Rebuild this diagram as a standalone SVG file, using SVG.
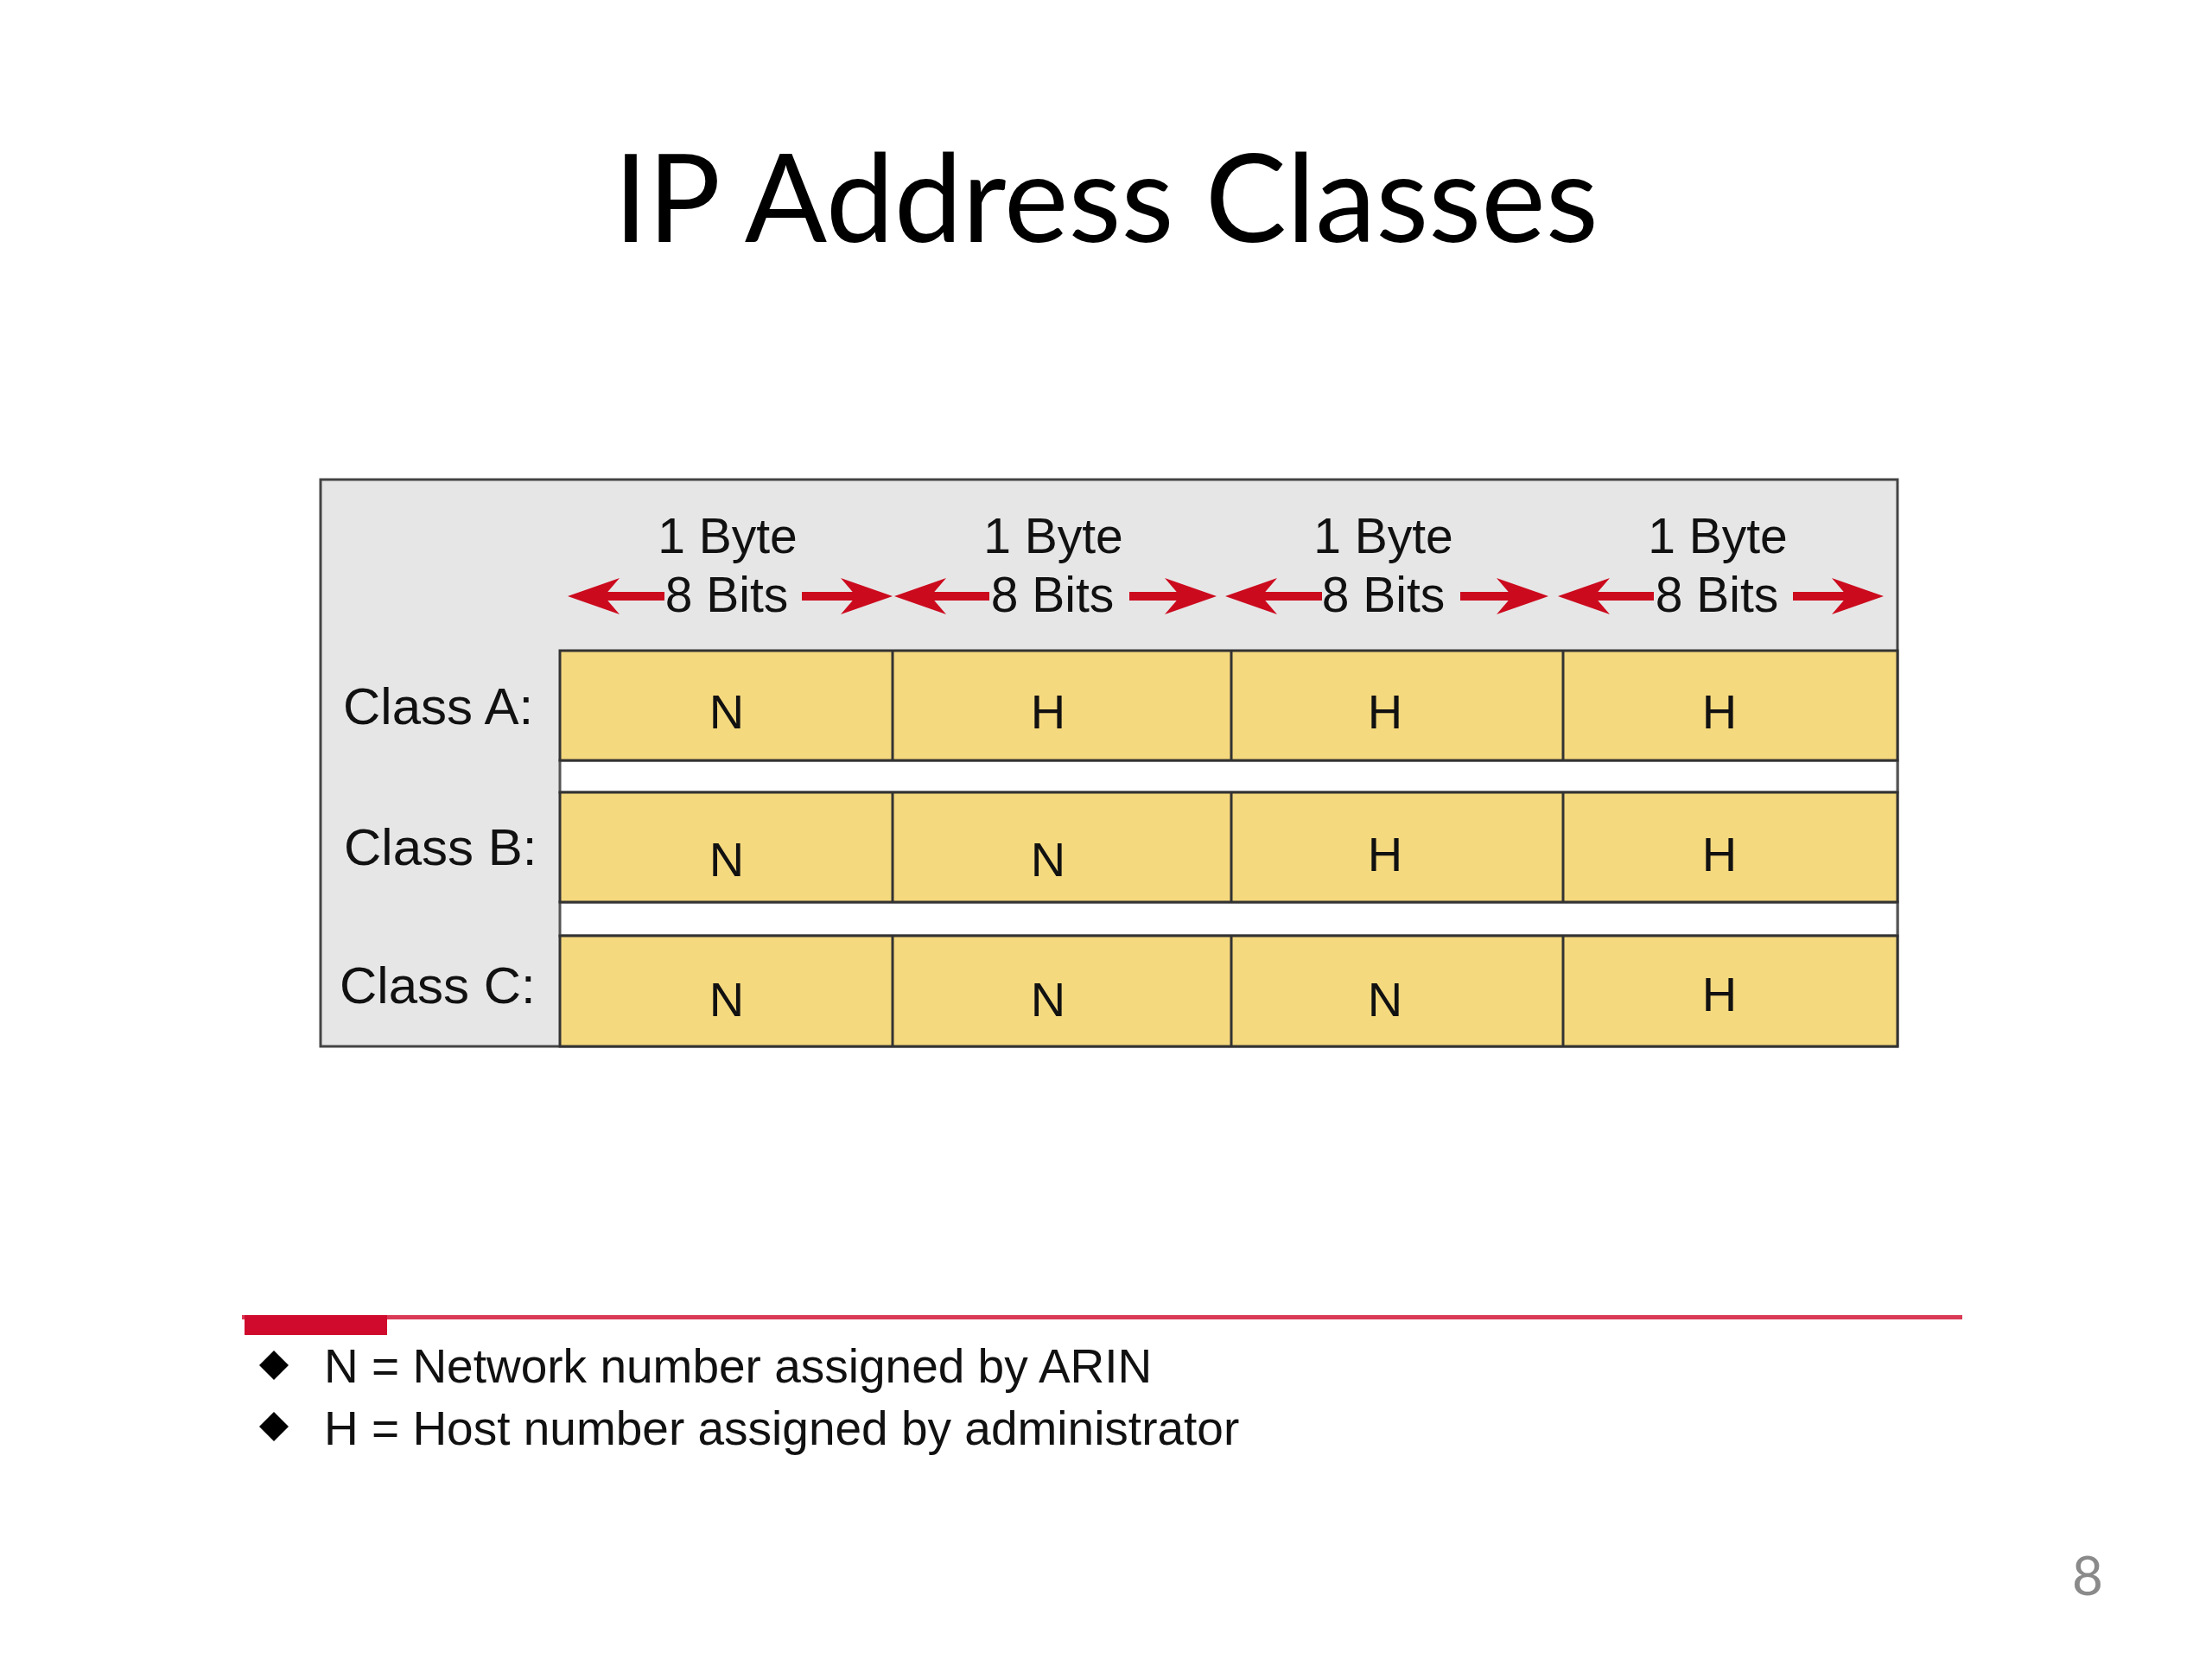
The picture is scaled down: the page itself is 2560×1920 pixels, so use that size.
<svg xmlns="http://www.w3.org/2000/svg" width="2560" height="1920" viewBox="0 0 2560 1920">
<style>
.title{font-family:Lato,"Open Sans",sans-serif;font-size:141px;fill:#000}
.pg{font-family:Lato,"Open Sans",sans-serif;font-size:62px;fill:#8a8a8a}
.hdr{font-family:"Liberation Sans",Arial,sans-serif;font-size:57px;fill:#111;text-anchor:middle}
.lbl{font-family:"Liberation Sans",Arial,sans-serif;font-size:60px;fill:#111}
.cell{fill:#F5D97E;stroke:#333;stroke-width:3}
.div{stroke:#333;stroke-width:3}
.strip{fill:#fff;stroke:#555;stroke-width:3}
.ch{font-family:"Liberation Sans",Arial,sans-serif;font-size:56px;fill:#111;text-anchor:middle}
.leg{font-family:"Liberation Sans",Arial,sans-serif;font-size:55px;fill:#111}
.arr{stroke:#CC0A1E;stroke-width:10;fill:none;marker-end:url(#head)}
</style>
<defs>
<marker id="head" viewBox="0 0 60 42" refX="18" refY="21" markerWidth="60" markerHeight="42" markerUnits="userSpaceOnUse" orient="auto" overflow="visible">
<path d="M0,0 L60,21 L0,42 L18,21 Z" fill="#CC0A1E"/>
</marker>
</defs>
<rect width="2560" height="1920" fill="#fff"/>
<g id="title"><text class="title" x="1280" y="280" text-anchor="middle">IP Address Classes</text></g>

<g id="panel">
<rect x="371" y="555" width="1825" height="656" fill="#E6E6E6" stroke="#444" stroke-width="3"/>
</g>

<g id="header">
<text class="hdr" x="842" y="640">1 Byte</text>
<text class="hdr" x="1219" y="640">1 Byte</text>
<text class="hdr" x="1601" y="640">1 Byte</text>
<text class="hdr" x="1988" y="640">1 Byte</text>
<text class="hdr" x="841" y="708">8 Bits</text>
<text class="hdr" x="1218" y="708">8 Bits</text>
<text class="hdr" x="1601" y="708">8 Bits</text>
<text class="hdr" x="1987" y="708">8 Bits</text>
</g>

<g id="connectors">
<line class="arr" x1="769" y1="690" x2="699" y2="690"/>
<line class="arr" x1="928" y1="690" x2="991" y2="690"/>
<line class="arr" x1="1145" y1="690" x2="1077" y2="690"/>
<line class="arr" x1="1307" y1="690" x2="1366" y2="690"/>
<line class="arr" x1="1530" y1="690" x2="1460" y2="690"/>
<line class="arr" x1="1690" y1="690" x2="1750" y2="690"/>
<line class="arr" x1="1914" y1="690" x2="1845" y2="690"/>
<line class="arr" x1="2075" y1="690" x2="2138" y2="690"/>
</g>

<g id="strips">
<rect class="strip" x="648" y="880" width="1548" height="37"/>
<rect class="strip" x="648" y="1044" width="1548" height="39"/>
</g>

<g id="classA">
<text class="lbl" x="397" y="838">Class A:</text>
<rect class="cell" x="648" y="753" width="1548" height="127"/>
<line class="div" x1="1033" y1="753" x2="1033" y2="880"/>
<line class="div" x1="1425" y1="753" x2="1425" y2="880"/>
<line class="div" x1="1809" y1="753" x2="1809" y2="880"/>
<text class="ch" x="841" y="843">N</text>
<text class="ch" x="1213" y="843">H</text>
<text class="ch" x="1603" y="843">H</text>
<text class="ch" x="1990" y="843">H</text>
</g>

<g id="classB">
<text class="lbl" x="398" y="1001">Class B:</text>
<rect class="cell" x="648" y="917" width="1548" height="127"/>
<line class="div" x1="1033" y1="917" x2="1033" y2="1044"/>
<line class="div" x1="1425" y1="917" x2="1425" y2="1044"/>
<line class="div" x1="1809" y1="917" x2="1809" y2="1044"/>
<text class="ch" x="841" y="1014">N</text>
<text class="ch" x="1213" y="1014">N</text>
<text class="ch" x="1603" y="1008">H</text>
<text class="ch" x="1990" y="1008">H</text>
</g>

<g id="classC">
<text class="lbl" x="393" y="1161">Class C:</text>
<rect class="cell" x="648" y="1083" width="1548" height="128"/>
<line class="div" x1="1033" y1="1083" x2="1033" y2="1211"/>
<line class="div" x1="1425" y1="1083" x2="1425" y2="1211"/>
<line class="div" x1="1809" y1="1083" x2="1809" y2="1211"/>
<text class="ch" x="841" y="1176">N</text>
<text class="ch" x="1213" y="1176">N</text>
<text class="ch" x="1603" y="1176">N</text>
<text class="ch" x="1990" y="1170">H</text>
</g>

<g id="legend">
<rect x="280" y="1522" width="1991" height="5" fill="#D93A55"/>
<rect x="283" y="1522" width="165" height="23" fill="#CF0A2C"/>
<polygon points="317,1563 334,1580 317,1597 300,1580" fill="#000"/>
<polygon points="317,1634 334,1651 317,1668 300,1651" fill="#000"/>
<text class="leg" x="375" y="1600">N = Network number assigned by ARIN</text>
<text class="leg" x="375" y="1672">H = Host number assigned by administrator</text>
</g>

<g id="page"><text class="pg" x="2416" y="1846" text-anchor="middle">8</text></g>
</svg>
